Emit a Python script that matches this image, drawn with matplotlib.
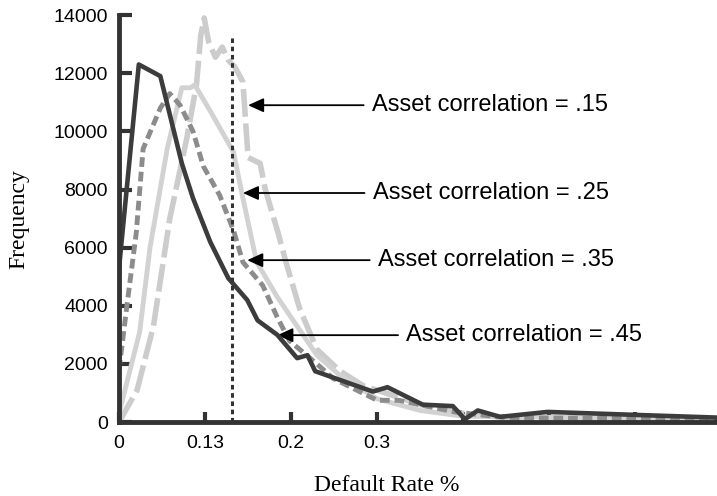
import matplotlib.pyplot as plt

# Données (taux de défaut, fréquence)
x_15 = [0.0, 0.021, 0.040, 0.059, 0.079, 0.090, 0.095, 0.099, 0.104, 0.112, 0.120, 0.127,
        0.135, 0.144, 0.150, 0.164, 0.170, 0.184, 0.195, 0.210, 0.230, 0.257, 0.284,
        0.320, 0.350, 0.400, 0.450, 0.700]
y_15 = [0, 1100, 3300, 7000, 9800, 11600, 13300, 13900, 13100, 12550, 12900, 12450,
        12200, 11700, 9100, 8900, 8000, 6600, 5400, 3900, 2500, 1750, 1250,
        900, 600, 300, 150, 100]

x_25 = [0.0, 0.024, 0.036, 0.056, 0.073, 0.083, 0.088, 0.106, 0.129, 0.133, 0.144, 0.160,
        0.184, 0.207, 0.230, 0.257, 0.300, 0.350, 0.400, 0.700]
y_25 = [300, 3100, 6000, 9400, 11500, 11500, 11600, 10700, 9500, 9300, 7700, 5500,
        4300, 3300, 2300, 1600, 800, 400, 200, 100]

x_35 = [0.0, 0.010, 0.020, 0.028, 0.048, 0.059, 0.071, 0.086, 0.098, 0.117, 0.133, 0.144,
        0.167, 0.184, 0.198, 0.230, 0.249, 0.300, 0.325, 0.390, 0.450, 0.700]
y_35 = [1800, 4200, 6500, 9400, 10800, 11300, 10900, 10000, 8800, 7800, 6600, 5500,
        4700, 3600, 2800, 2000, 1500, 750, 750, 350, 150, 100]

x_45 = [0.0, 0.023, 0.048, 0.073, 0.086, 0.106, 0.127, 0.149, 0.161, 0.184, 0.207, 0.219,
        0.228, 0.295, 0.312, 0.353, 0.388, 0.402, 0.417, 0.443, 0.498, 0.598, 0.700]
y_45 = [5300, 12300, 11900, 8900, 7700, 6200, 4950, 4200, 3500, 3000, 2200, 2300,
        1750, 1050, 1200, 600, 550, 100, 400, 180, 350, 250, 150]

x_ticks = [0, 0.1, 0.2, 0.3, 0.4, 0.5, 0.6]
x_tick_labels = ['0', '0.13', '0.2', '0.3', '', '', '']
y_ticks = [0, 2000, 4000, 6000, 8000, 10000, 12000, 14000]
seuil = 0.131

labels = ['Asset correlation = .15', 'Asset correlation = .25',
          'Asset correlation = .35', 'Asset correlation = .45']
pointes = [(0.150, 10900), (0.144, 7880), (0.149, 5570), (0.184, 2990)]
textes_x = [0.294, 0.295, 0.301, 0.334]

fig = plt.figure(figsize=(7.17, 4.96), dpi=100)
ax = fig.add_axes([0.166, 0.149, 0.834, 0.8206])

# Courbes
ax.plot(x_15, y_15, color='#cccccc', lw=4, dashes=(5, 1.2), zorder=2)
ax.plot(x_25, y_25, color='#d2d2d2', lw=3.5, zorder=2)
ax.plot(x_35, y_35, color='#8c8c8c', lw=3.5, dashes=(2, 1), zorder=3)
ax.plot(x_45, y_45, color='#3c3c3c', lw=3.3, zorder=4)

# Ligne verticale pointillée
ax.plot([seuil, seuil], [0, 13300], color='#333333', lw=2.2, dashes=(1.5, 1.2), zorder=5)

# Flèches et étiquettes
for lab, (px, py), tx in zip(labels, pointes, textes_x):
    ax.annotate(lab, xy=(px, py), xytext=(tx, py), va='center', ha='left',
                fontsize=17, family='Liberation Sans',
                arrowprops=dict(arrowstyle='-|>,head_length=0.55,head_width=0.25',
                                color='black', lw=1.3, shrinkA=4, shrinkB=0))

ax.set_xlim(0, 0.695)
ax.set_ylim(0, 14000)
ax.set_xticks(x_ticks)
ax.set_xticklabels(x_tick_labels)
ax.set_yticks(y_ticks)

for s in ['top', 'right']:
    ax.spines[s].set_visible(False)
for s in ['left', 'bottom']:
    ax.spines[s].set_color('#333333')
    ax.spines[s].set_linewidth(3.5)
    ax.spines[s].set_zorder(6)

ax.tick_params(axis='y', direction='in', length=9, width=3, color='#333333',
               labelsize=14, pad=8)
ax.tick_params(axis='x', direction='in', length=7, width=3, color='#333333',
               labelsize=14, pad=9)
for lab in ax.get_xticklabels() + ax.get_yticklabels():
    lab.set_family('Liberation Sans')

ax.set_ylabel('Frequency', family='Liberation Serif', fontsize=17, labelpad=17)
fig.text(0.539, 0.01, 'Default Rate %', family='Liberation Serif', fontsize=17,
         ha='center', va='baseline')

plt.savefig('out.png', dpi=100)
